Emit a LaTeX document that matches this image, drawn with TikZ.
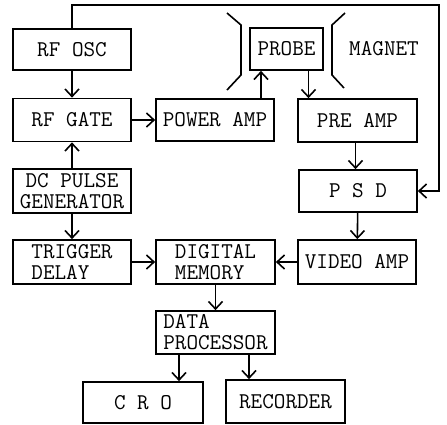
\documentclass[tikz,border=0pt]{standalone}
\usepackage{fontspec}
\usepackage{tikz}
\usetikzlibrary{arrows.meta, positioning, calc}
\tikzstyle{block} = [rectangle, draw=black, line width=1.7pt, minimum width=118pt, minimum height=43pt, inner sep=1pt, text centered, font=\ttfamily\fontsize{22.5}{21}\selectfont]
\tikzstyle{arrow} = [line width=1.6pt, -{Straight Barb[length=7.5pt, width=14pt, line width=1.6pt]}]
\tikzstyle{magnet} = [line width=1.6pt]

\begin{document}
\begin{tikzpicture}[x=1pt, y=-1pt]
\useasboundingbox (0,0) rectangle (447,424);

% Left column
\node (rfosc) [block, minimum height=41pt] at (72,49.5) {RF OSC};
\node (rfgate) [block] at (72,120) {RF GATE};
\node (dcpulse) [block, minimum height=44pt, align=center] at (72,191) {DC PULSE\\GENERATOR};
\node (trigger) [block, minimum height=44pt, align=left] at (72,262) {TRIGGER\\DELAY};

% Middle column
\node (power) [block, minimum height=42pt] at (215,120) {POWER AMP};
\node (digital) [block, minimum width=119pt, minimum height=44pt, align=left] at (215.5,262) {DIGITAL\\MEMORY};
\node (dataproc) [block, minimum width=119pt, align=left] at (215.5,332.5) {DATA\\PROCESSOR};

% Right column
\node (probe) [block, minimum width=73pt, minimum height=42pt] at (286.5,49) {PROBE};
\node (preamp) [block, minimum width=119pt] at (357.5,120.5) {PRE AMP};
\node (psd) [block, minimum height=42pt] at (358,191) {P S D};
\node (video) [block, minimum height=44pt] at (357,262) {VIDEO AMP};

% Output devices
\node (cro) [block, minimum width=120pt, minimum height=41pt] at (143,402.5) {C R O};
\node (recorder) [block, minimum width=119pt] at (285.5,401.5) {RECORDER};

% Magnet pole pieces
\draw [magnet] (227,13) -- (241,25) -- (241,75) -- (227,90);
\draw [magnet] (345,13) -- (332,25) -- (332,75) -- (344,88);
\node (magnetlabel) [font=\ttfamily\fontsize{22.5}{21}\selectfont] at (384,49) {MAGNET};

% Arrows
\draw [arrow] (rfosc) -- (rfgate);
\draw [arrow] (dcpulse) -- (rfgate);
\draw [arrow] (dcpulse) -- (trigger);
\draw [arrow] (rfgate) -- (power);
\draw [arrow] ([xshift=46pt]power.north) -- ([xshift=46pt]power.north |- probe.south);
\draw [arrow] ([xshift=22pt]probe.south) -- ([xshift=22pt]probe.south |- preamp.north);
\draw [arrow] ([xshift=-2pt]preamp.south) -- ([xshift=-2pt]preamp.south |- psd.north);
\draw [arrow] (psd) -- (video);
\draw [arrow] (video) -- (digital);
\draw [arrow] (trigger) -- (digital);
\draw [arrow] (digital) -- (dataproc);
\draw [arrow] ([xshift=-36.5pt]dataproc.south) -- ([xshift=-36.5pt]dataproc.south |- cro.north);
\draw [arrow] ([xshift=33.5pt]dataproc.south) -- ([xshift=33.5pt]dataproc.south |- recorder.north);

% Reference loop from the oscillator to the detector
\coordinate (loopcorner) at (439,5);
\draw [arrow] (rfosc.north) |- (loopcorner) |- (psd.east);

\end{tikzpicture}
\end{document}
